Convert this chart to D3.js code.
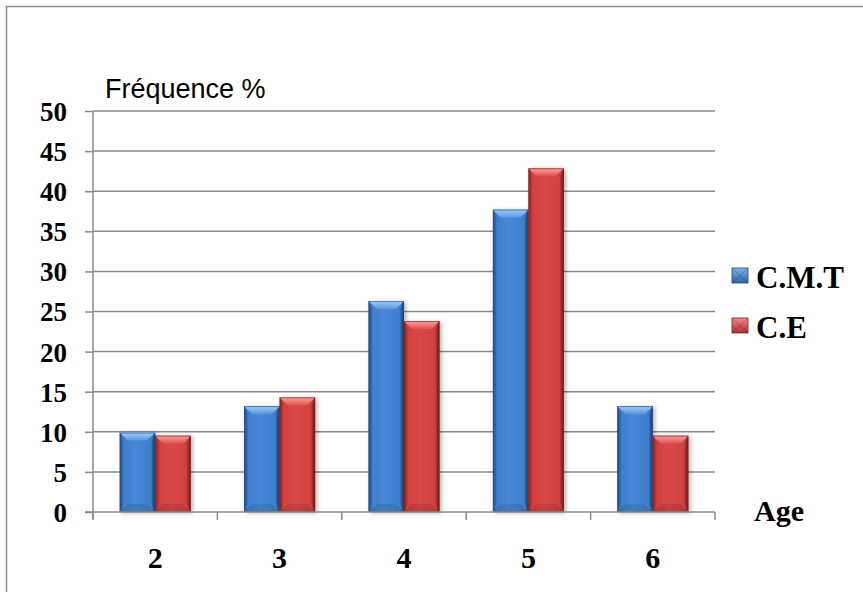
<!DOCTYPE html>
<html>
<head>
<meta charset="utf-8">
<script src="https://cdn.jsdelivr.net/npm/d3@7/dist/d3.min.js"></script>
<style>
  html, body { margin: 0; padding: 0; background: #ffffff; }
  svg { display: block; }
</style>
</head>
<body>
<svg id="chart" width="863" height="592"></svg>
<script>
// Age groups and frequencies (%) per group
const ages = ["2", "3", "4", "5", "6"];
const seriesNames = ["C.M.T", "C.E"];
const cmtValues = [9.9, 13.2, 26.3, 37.7, 13.2];
const ceValues = [9.52, 14.29, 23.81, 42.86, 9.52];
const yTicks = [0, 5, 10, 15, 20, 25, 30, 35, 40, 45, 50];

const seriesValues = [cmtValues, ceValues];

const svg = d3.select("#chart");
const W = 863, H = 592;
const plot = { left: 93, right: 715, top: 111, bottom: 512 };

// outer frame
svg.append("rect")
  .attr("x", 6.5).attr("y", 6.5)
  .attr("width", W).attr("height", H)
  .attr("fill", "#ffffff")
  .attr("stroke", "#8c8c8c").attr("stroke-width", 1.5);

const x = d3.scaleBand().domain(ages).range([plot.left, plot.right]).padding(0);
const xs = d3.scaleBand().domain(seriesNames).range([0, x.bandwidth()])
  .paddingInner(0).paddingOuter(0.752);
const y = d3.scaleLinear().domain([0, 50]).range([plot.bottom, plot.top]);

const defs = svg.append("defs");

const palettes = {
  "C.M.T": { edgeL: "#2b5c9c", mid: "#4789d8", body: "#3e7ecb", edgeR: "#23508c",
             topA: "#a3cdf8", topB: "#5596e0", stroke: "#1f4a80", legendA: "#7fb1ea", legendB: "#2f66a8" },
  "C.E":   { edgeL: "#a52e2c", mid: "#da4846", body: "#d0403e", edgeR: "#8e2422",
             topA: "#f7a3a1", topB: "#e0524f", stroke: "#7d1f1d", legendA: "#f28b89", legendB: "#b02f2d" }
};

seriesNames.forEach((s, i) => {
  const p = palettes[s];
  const gb = defs.append("linearGradient").attr("id", "body" + i)
    .attr("x1", "0").attr("x2", "1").attr("y1", "0").attr("y2", "0");
  gb.append("stop").attr("offset", "0").attr("stop-color", p.edgeL);
  gb.append("stop").attr("offset", "0.1").attr("stop-color", p.body);
  gb.append("stop").attr("offset", "0.45").attr("stop-color", p.mid);
  gb.append("stop").attr("offset", "0.9").attr("stop-color", p.body);
  gb.append("stop").attr("offset", "1").attr("stop-color", p.edgeR);

  const gt = defs.append("linearGradient").attr("id", "top" + i)
    .attr("x1", "0").attr("x2", "0").attr("y1", "0").attr("y2", "1");
  gt.append("stop").attr("offset", "0").attr("stop-color", p.topA);
  gt.append("stop").attr("offset", "1").attr("stop-color", p.topB);

  const gl = defs.append("linearGradient").attr("id", "leg" + i)
    .attr("x1", "0").attr("x2", "0").attr("y1", "0").attr("y2", "1");
  gl.append("stop").attr("offset", "0").attr("stop-color", p.legendA);
  gl.append("stop").attr("offset", "1").attr("stop-color", p.legendB);
});

const shadow = defs.append("filter").attr("id", "shadow")
  .attr("x", "-20%").attr("y", "-10%").attr("width", "150%").attr("height", "130%");
shadow.append("feDropShadow").attr("dx", 2).attr("dy", 1)
  .attr("stdDeviation", 2).attr("flood-color", "#000").attr("flood-opacity", 0.3);

// gridlines
const grid = svg.append("g");
grid.selectAll("line").data(yTicks.filter(t => t > 0)).join("line")
  .attr("x1", plot.left).attr("x2", plot.right)
  .attr("y1", d => y(d)).attr("y2", d => y(d))
  .attr("stroke", "#8a8a8a").attr("stroke-width", 1.5);

// y axis
const yAxis = svg.append("g").attr("transform", `translate(${plot.left},0)`)
  .call(d3.axisLeft(y).tickValues(yTicks).tickSize(8).tickPadding(18).tickSizeOuter(0));
yAxis.select(".domain").remove();
yAxis.selectAll(".tick line").attr("stroke", "#8a8a8a").attr("stroke-width", 1.5);
yAxis.selectAll(".tick text")
  .attr("fill", "#000")
  .style("font-family", "'Liberation Serif', 'Times New Roman', serif")
  .style("font-weight", "bold").style("font-size", "27px")
  .attr("dy", "0.35em");
yAxis.append("line")
  .attr("x1", 0).attr("x2", 0).attr("y1", plot.top).attr("y2", plot.bottom + 8)
  .attr("stroke", "#8a8a8a").attr("stroke-width", 1.5);

// bars
const groups = svg.append("g").selectAll("g").data(ages).join("g")
  .attr("transform", d => `translate(${x(d)},0)`);

function drawBar(g, bx, by, bw, bh, i) {
  const b = Math.min(8, bh / 2);
  const bar = g.append("g").attr("filter", "url(#shadow)");
  bar.append("rect").attr("x", bx).attr("y", by).attr("width", bw).attr("height", bh)
    .attr("fill", `url(#body${i})`);
  // top bevel
  bar.append("polygon")
    .attr("points", [[bx, by], [bx + bw, by], [bx + bw - b, by + b], [bx + b, by + b]].join(" "))
    .attr("fill", `url(#top${i})`);
  // left and right bevels
  bar.append("polygon")
    .attr("points", [[bx, by], [bx + b * 0.45, by + b], [bx + b * 0.45, by + bh - b], [bx, by + bh]].join(" "))
    .attr("fill", "#000").attr("opacity", 0.12);
  bar.append("polygon")
    .attr("points", [[bx + bw, by], [bx + bw - b * 0.45, by + b], [bx + bw - b * 0.45, by + bh - b], [bx + bw, by + bh]].join(" "))
    .attr("fill", "#000").attr("opacity", 0.2);
  // bottom bevel
  bar.append("polygon")
    .attr("points", [[bx, by + bh], [bx + b, by + bh - b], [bx + bw - b, by + bh - b], [bx + bw, by + bh]].join(" "))
    .attr("fill", "#000").attr("opacity", 0.1);
  bar.append("rect").attr("x", bx + 0.5).attr("y", by + 0.5).attr("width", bw - 1).attr("height", bh - 1)
    .attr("fill", "none").attr("stroke", palettes[seriesNames[i]].stroke).attr("stroke-width", 1).attr("opacity", 0.6);
}

groups.each(function(age, ai) {
  const g = d3.select(this);
  seriesNames.forEach((s, i) => {
    const v = seriesValues[i][ai];
    drawBar(g, xs(s), y(v), xs.bandwidth(), y(0) - y(v), i);
  });
});

// x axis
const xAxis = svg.append("g").attr("transform", `translate(0,${plot.bottom})`);
xAxis.append("line").attr("x1", plot.left - 8).attr("x2", plot.right)
  .attr("stroke", "#8a8a8a").attr("stroke-width", 1.5);
const bounds = ages.map(a => x(a)).concat([plot.right]);
xAxis.selectAll("line.tk").data(bounds).join("line").attr("class", "tk")
  .attr("x1", d => d).attr("x2", d => d).attr("y1", 0).attr("y2", 8)
  .attr("stroke", "#8a8a8a").attr("stroke-width", 1.5);
xAxis.selectAll("text").data(ages).join("text")
  .attr("x", d => x(d) + x.bandwidth() / 2).attr("y", 56)
  .attr("text-anchor", "middle")
  .style("font-family", "'Liberation Serif', 'Times New Roman', serif")
  .style("font-weight", "bold").style("font-size", "30px")
  .text(d => d);

// axis titles
svg.append("text").attr("x", 105).attr("y", 98)
  .style("font-family", "'Liberation Sans', Arial, sans-serif")
  .style("font-size", "27px")
  .text("Fréquence %");
svg.append("text").attr("x", 754).attr("y", 521)
  .style("font-family", "'Liberation Serif', 'Times New Roman', serif")
  .style("font-weight", "bold").style("font-size", "30px")
  .text("Age");

// legend
const legend = svg.append("g").selectAll("g").data(seriesNames).join("g")
  .attr("transform", (d, i) => `translate(732,${268 + i * 50})`);
legend.append("rect").attr("width", 16).attr("height", 15)
  .attr("fill", (d, i) => `url(#leg${i})`)
  .attr("stroke", d => palettes[d].stroke).attr("stroke-width", 0.8);
legend.append("path")
  .attr("d", "M0,0 L8,7.5 L16,0 M0,15 L8,7.5 L16,15")
  .attr("stroke", "#000").attr("stroke-opacity", 0.2).attr("fill", "none");
legend.append("text").attr("x", 24).attr("y", 20)
  .style("font-family", "'Liberation Serif', 'Times New Roman', serif")
  .style("font-weight", "bold").style("font-size", "31px")
  .text(d => d);
</script>
</body>
</html>
